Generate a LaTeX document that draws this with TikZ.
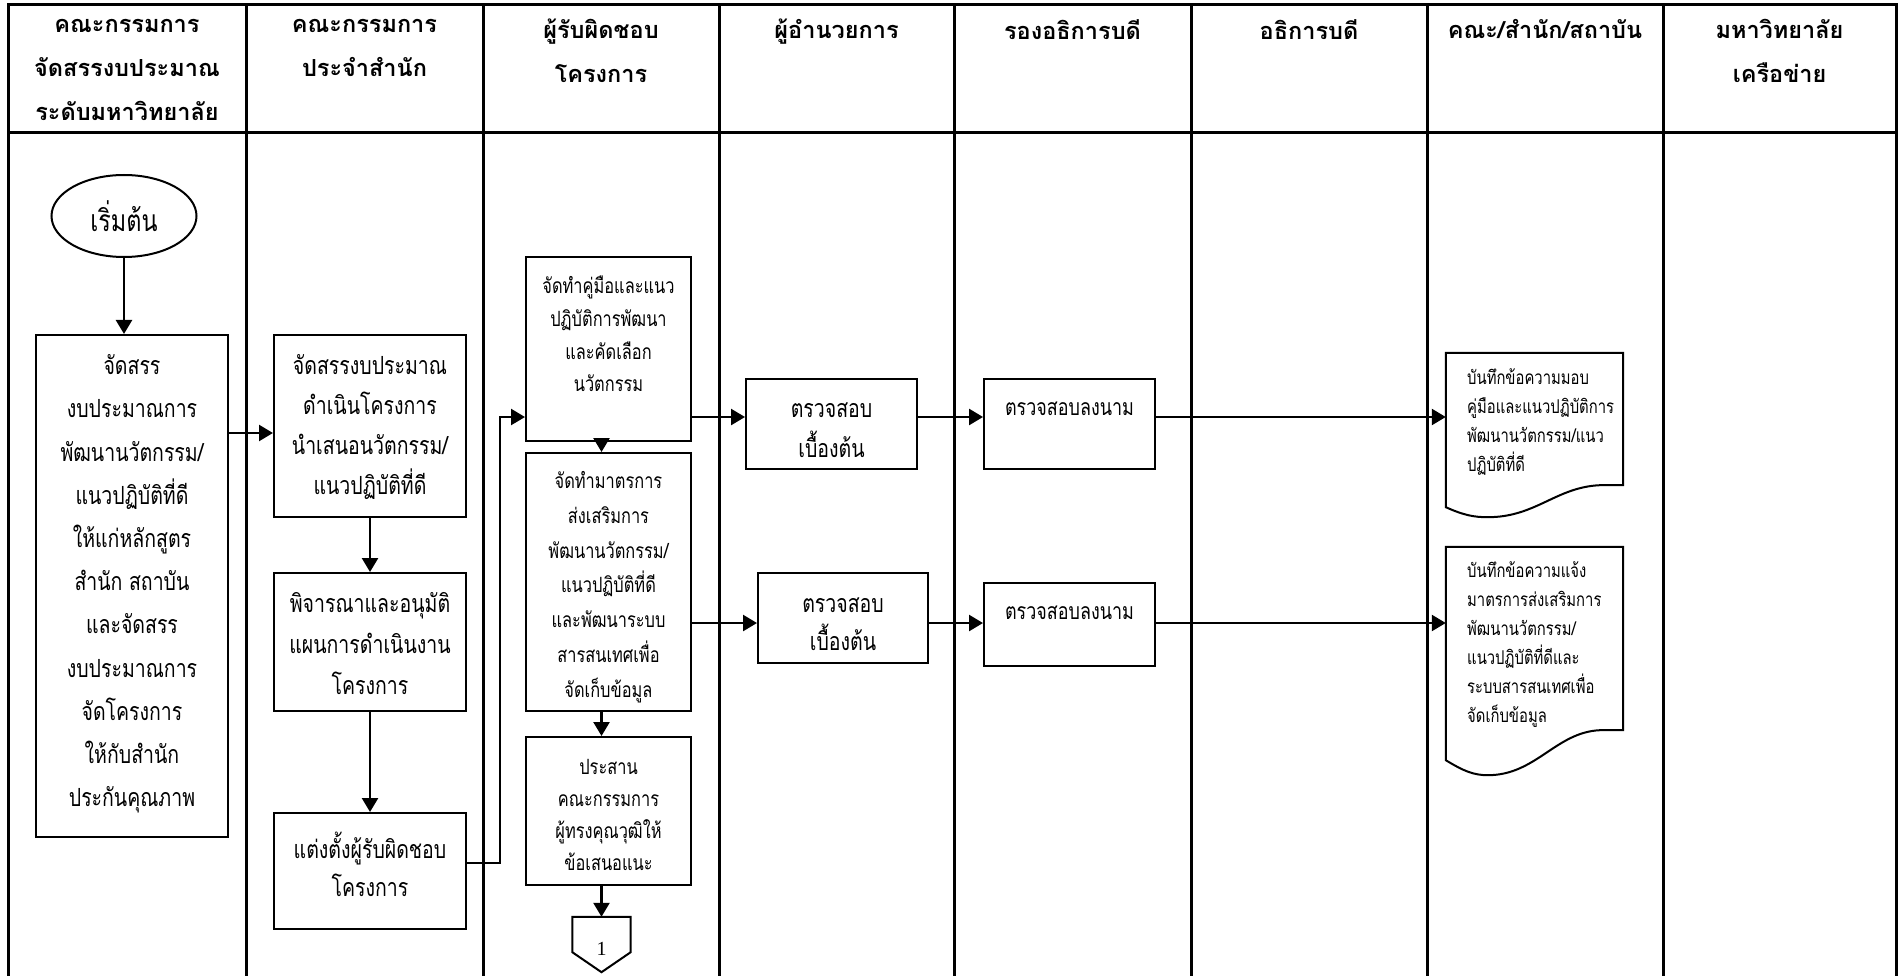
\documentclass[tikz,border=0pt]{standalone}
\usepackage{fontspec}
\newfontfamily\thb[Script=Thai,FakeStretch=0.78]{Loma}
\newfontfamily\thh[Script=Thai]{Loma}
\newfontfamily\latf{Liberation Serif}
\usetikzlibrary{arrows.meta,shapes.geometric,calc}
\newcommand\myfs[2]{\fontsize{#1}{#2}\selectfont}
\begin{document}
\begin{tikzpicture}[x=1pt,y=-1pt,
  lane/.style={line width=3pt},
  box/.style={draw,line width=2pt,inner sep=0pt,rectangle},
  arr/.style={line width=2.5pt,-{Triangle[length=14pt,width=16pt]}},
  hd/.style={align=center,inner sep=0pt,anchor=north,font=\thh\bfseries\myfs{23.5}{44}},
  tx/.style={align=center,inner sep=0pt},
  txl/.style={align=left,inner sep=0pt,anchor=west},
  doc/.style={draw,line width=2pt},
  shp/.style={inner sep=0pt}
]
\useasboundingbox (0,0) rectangle (1898,976);
% swimlanes
\draw[lane] (8,976) -- (8,5) -- (1896,5) -- (1896,976);
\foreach \x in {246,483,719,954,1191,1427,1663} \draw[lane] (\x,5) -- (\x,976);
\draw[lane] (8,133) -- (1896,133);
% headers
\node[hd] (h1) at (127,19) {คณะกรรมการ\\จัดสรรงบประมาณ\\ระดับมหาวิทยาลัย};
\node[hd] (h2) at (364.5,19) {คณะกรรมการ\\ประจำสำนัก};
\node[hd] (h3) at (601,19) {ผู้รับผิดชอบ\\โครงการ};
\node[hd] (h4) at (836.5,19) {ผู้อำนวยการ};
\node[hd] (h5) at (1072.5,19) {รองอธิการบดี};
\node[hd] (h6) at (1309,19) {อธิการบดี};
\node[hd] (h7) at (1545,19) {คณะ/สำนัก/สถาบัน};
\node[hd] (h8) at (1779.5,19) {มหาวิทยาลัย\\เครือข่าย};
% start
\node[draw,ellipse,line width=2pt,inner sep=0pt,minimum width=145pt,minimum height=82pt,font=\thb\myfs{30}{30}] (e) at (124,216) {เริ่มต้น};
% boxes
\node[box,minimum width=192pt,minimum height=502pt] (b1) at (132,586) {};
\node[box,minimum width=192pt,minimum height=182pt] (b2a) at (370,426) {};
\node[box,minimum width=192pt,minimum height=138pt] (b2b) at (370,642) {};
\node[box,minimum width=192pt,minimum height=116pt] (b2c) at (370,871) {};
\node[box,minimum width=165pt,minimum height=184pt] (b3a) at (608.5,349) {};
\node[box,minimum width=165pt,minimum height=258pt] (b3b) at (608.5,582) {};
\node[box,minimum width=165pt,minimum height=148pt] (b3c) at (608.5,811) {};
\node[box,minimum width=171pt,minimum height=90pt] (b4a) at (831.5,424) {};
\node[box,minimum width=170pt,minimum height=90pt] (b4b) at (843,618) {};
\node[box,minimum width=171pt,minimum height=90pt] (b5a) at (1069.5,424) {};
\node[box,minimum width=171pt,minimum height=83pt] (b5b) at (1069.5,624.5) {};
% documents
\node[shp,minimum width=177pt,minimum height=132pt] (d1) at (1534.5,419) {};
\draw[doc] (d1.south east) -- (d1.north east) -- (d1.north west) -- ($(d1.south west)+(0,22)$)
  .. controls ($(d1.south west)+(18,30)$) and ($(d1.south west)+(28,32)$) .. ($(d1.south west)+(42,32)$)
  .. controls ($(d1.south west)+(90,32)$) and ($(d1.south west)+(110,2)$) .. ($(d1.south west)+(154,0)$) -- cycle;
\node[shp,minimum width=177pt,minimum height=183pt] (d2) at (1534.5,638.5) {};
\draw[doc] (d2.south east) -- (d2.north east) -- (d2.north west) -- ($(d2.south west)+(0,30)$)
  .. controls ($(d2.south west)+(18,41)$) and ($(d2.south west)+(28,45)$) .. ($(d2.south west)+(42,45)$)
  .. controls ($(d2.south west)+(90,45)$) and ($(d2.south west)+(110,2)$) .. ($(d2.south west)+(154,0)$) -- cycle;
% off-page connector
\node[shp,minimum width=58pt,minimum height=35pt] (off) at (601.5,934.5) {};
\draw[doc] (off.north west) -- (off.north east) -- (off.south east) -- ($(off.south)+(0,20)$) -- (off.south west) -- cycle;
\node[inner sep=0pt,font=\latf\myfs{20}{20}] (n1) at (601.5,949) {1};
% texts
\node[tx,font=\thb\myfs{25}{43.2}] (t1) at (132,584) {จัดสรร\\งบประมาณการ\\พัฒนานวัตกรรม/\\แนวปฏิบัติที่ดี\\ให้แก่หลักสูตร\\สำนัก สถาบัน\\และจัดสรร\\งบประมาณการ\\จัดโครงการ\\ให้กับสำนัก\\ประกันคุณภาพ};
\node[tx,font=\thb\myfs{25}{40}] (t2a) at (370,427) {จัดสรรงบประมาณ\\ดำเนินโครงการ\\นำเสนอนวัตกรรม/\\แนวปฏิบัติที่ดี};
\node[tx,font=\thb\myfs{25}{41}] (t2b) at (370,644) {พิจารณาและอนุมัติ\\แผนการดำเนินงาน\\โครงการ};
\node[tx,font=\thb\myfs{25}{38}] (t2c) at (370,864) {แต่งตั้งผู้รับผิดชอบ\\โครงการ};
\node[tx,font=\thb\myfs{21}{32.7}] (t3a) at (608.5,334) {จัดทำคู่มือและแนว\\ปฏิบัติการพัฒนา\\และคัดเลือก\\นวัตกรรม};
\node[tx,font=\thb\myfs{21}{34.8}] (t3b) at (608.5,587) {จัดทำมาตรการ\\ส่งเสริมการ\\พัฒนานวัตกรรม/\\แนวปฏิบัติที่ดี\\และพัฒนาระบบ\\สารสนเทศเพื่อ\\จัดเก็บข้อมูล};
\node[tx,font=\thb\myfs{21}{31.7}] (t3c) at (608.5,815) {ประสาน\\คณะกรรมการ\\ผู้ทรงคุณวุฒิให้\\ข้อเสนอแนะ};
\node[tx,font=\thb\myfs{25}{40}] (t4a) at (831.5,430) {ตรวจสอบ\\เบื้องต้น};
\node[tx,font=\thb\myfs{25}{38}] (t4b) at (843,624) {ตรวจสอบ\\เบื้องต้น};
\node[tx,font=\thb\myfs{23}{23}] (t5a) at (1069.5,409) {ตรวจสอบลงนาม};
\node[tx,font=\thb\myfs{23}{23}] (t5b) at (1069.5,613) {ตรวจสอบลงนาม};
\node[txl,font=\thb\myfs{19}{29}] (td1) at (1467,421.5) {บันทึกข้อความมอบ\\คู่มือและแนวปฏิบัติการ\\พัฒนานวัตกรรม/แนว\\ปฏิบัติที่ดี};
\node[txl,font=\thb\myfs{19}{29}] (td2) at (1467,644.5) {บันทึกข้อความแจ้ง\\มาตรการส่งเสริมการ\\พัฒนานวัตกรรม/\\แนวปฏิบัติที่ดีและ\\ระบบสารสนเทศเพื่อ\\จัดเก็บข้อมูล};
% connectors
\coordinate (r0) at (0,433);
\coordinate (r1) at (0,417);
\coordinate (r2) at (0,623);
\coordinate (j1) at (500,417);
\draw[arr] (e.south) -- (e.south |- b1.north);
\draw[arr] (b1.east |- r0) -- (b2a.west |- r0);
\draw[arr] (b2a.south) -- (b2b.north);
\draw[arr] (b2b.south) -- (b2c.north);
\draw[arr] ([yshift=8pt]b2c.east) -| (j1) -- (b3a.west |- r1);
\draw[arr] ([xshift=-7pt]b3a.south) -- ([xshift=-7pt]b3b.north);
\draw[arr] ([xshift=-7pt]b3b.south) -- ([xshift=-7pt]b3c.north);
\draw[arr] ([xshift=-7pt]b3c.south) -- (off.north);
\draw[arr] (b3a.east |- r1) -- (b4a.west |- r1);
\draw[arr] (b4a.east |- r1) -- (b5a.west |- r1);
\draw[arr] (b5a.east |- r1) -- (d1.west |- r1);
\draw[arr] (b3b.east |- r2) -- (b4b.west |- r2);
\draw[arr] (b4b.east |- r2) -- (b5b.west |- r2);
\draw[arr] (b5b.east |- r2) -- (d2.west |- r2);
\end{tikzpicture}
\end{document}
